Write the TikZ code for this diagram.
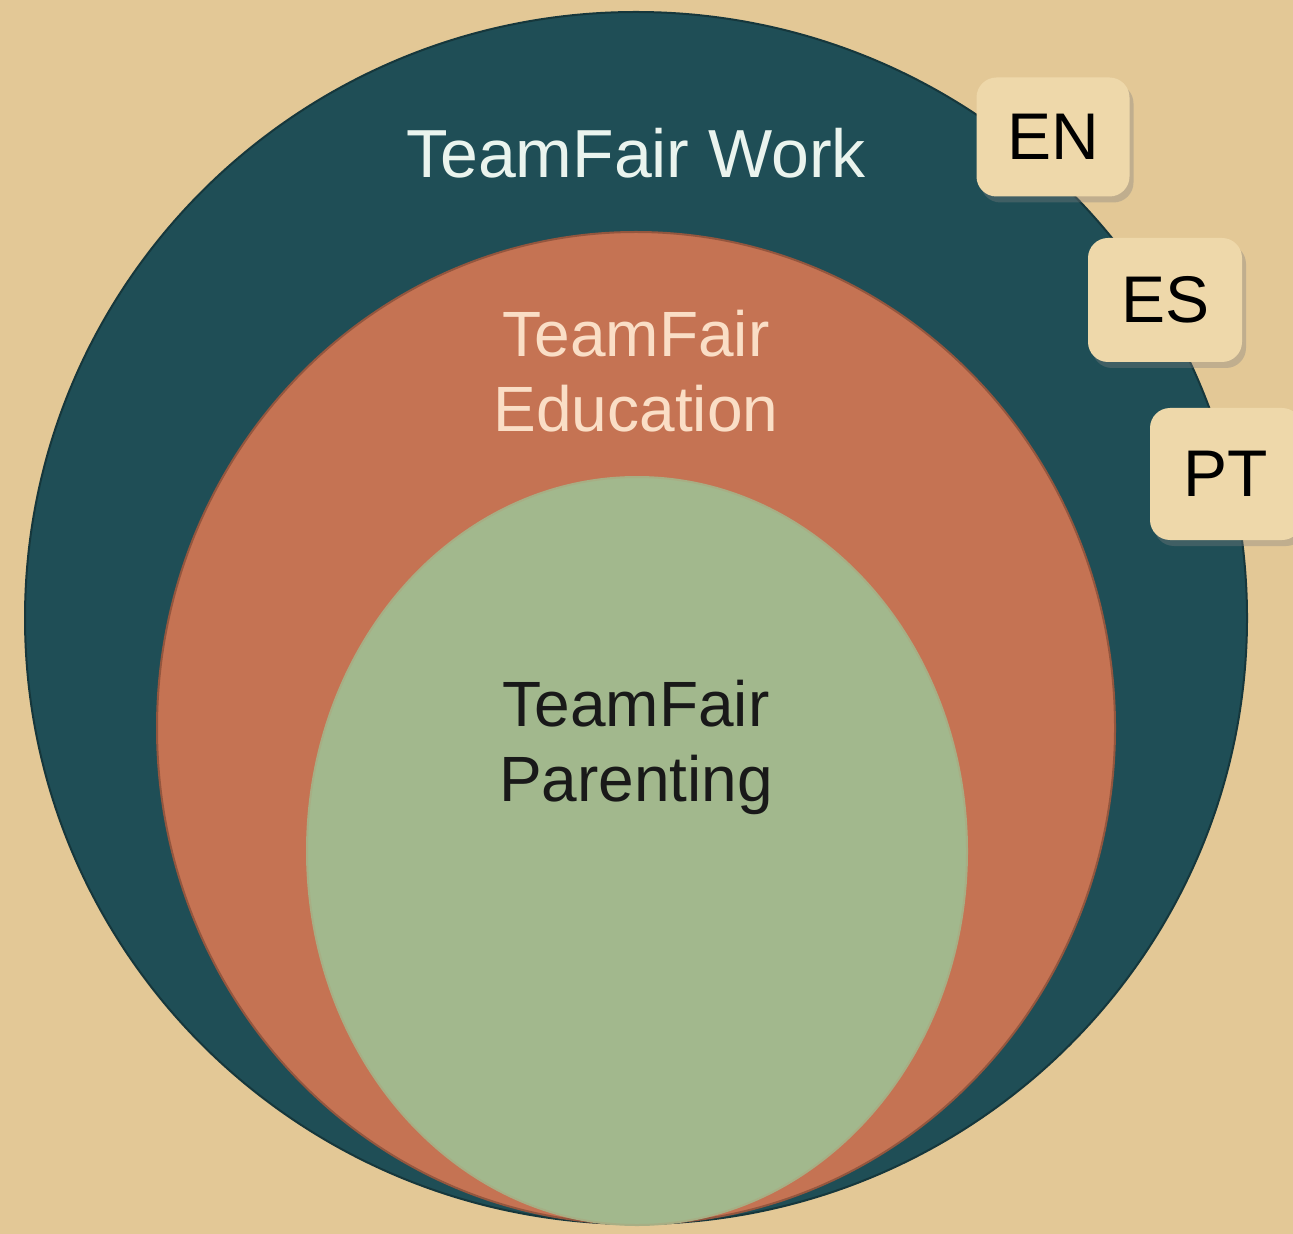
\documentclass[tikz,border=0pt]{standalone}
\usepackage{fontspec}
\setmainfont{Liberation Sans}
\usepackage{tikz}
\usetikzlibrary{shadows}

\definecolor{bgsand}{RGB}{227,200,150}
\definecolor{worktl}{RGB}{31,78,86}
\definecolor{educor}{RGB}{197,115,83}
\definecolor{parsag}{RGB}{162,184,141}
\definecolor{tagfill}{RGB}{238,216,170}
\definecolor{worktxt}{RGB}{234,244,238}
\definecolor{edutxt}{RGB}{250,222,198}

\tikzset{
  langtag/.style={draw=none, fill=tagfill, rounded corners=10pt, inner sep=0pt,
    drop shadow={shadow xshift=2pt, shadow yshift=-3pt, opacity=0.35},
    font=\fontsize{33}{38}\selectfont, text=black},
  ringtxt/.style={inner sep=0pt, align=center, font=\fontsize{32}{37.5}\selectfont}
}

\begin{document}
\begin{tikzpicture}[x=0.5pt,y=0.5pt,yscale=-1,xscale=1]
    \useasboundingbox (0,0) rectangle (1293,1234);
    %Shape: Rectangle [background]
    \fill [bgsand] (0,0) rectangle (1293,1234);

    %Shape: Ellipse [work]
    \draw [draw=worktl!70!black, line width=1pt, fill=worktl] (636,618) ellipse [x radius=611, y radius=606];
    %Shape: Ellipse [education]
    \draw [draw=educor!75!black, line width=1pt, fill=educor] (636,728) ellipse [x radius=479, y radius=496];
    %Shape: Ellipse [parenting]
    \draw [draw=parsag!85!educor, line width=1pt, fill=parsag] (637,851) ellipse [x radius=330, y radius=374];

    % Text Node
    \node (work) [ringtxt, anchor=base, font=\fontsize{34}{40}\selectfont, text=worktxt] at (636,178) {TeamFair Work};
    % Text Node (base = last line)
    \node (education) [ringtxt, anchor=base, text=edutxt] at (636,432) {TeamFair\\Education};
    % Text Node (base = last line)
    \node (parenting) [ringtxt, anchor=base, text=black!90] at (636,801) {TeamFair\\Parenting};

    % Language tags
    \node (en) [langtag, minimum width=76.5pt, minimum height=59.5pt] at (1053,137) {EN};
    \node (es) [langtag, minimum width=77pt, minimum height=62pt] at (1165,300) {ES};
    \node (pt) [langtag, minimum width=76pt, minimum height=66pt] at (1226,474) {PT};

\end{tikzpicture}
\end{document}
